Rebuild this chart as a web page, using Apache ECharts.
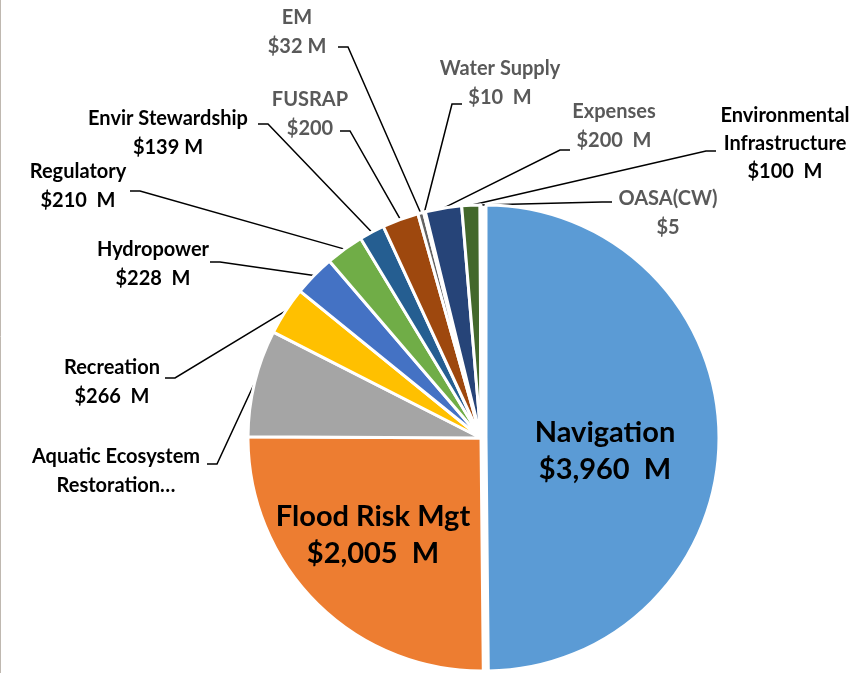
<!DOCTYPE html>
<html>
<head>
<meta charset="utf-8">
<script src="https://cdn.jsdelivr.net/npm/echarts@6/dist/echarts.min.js"></script>
<style>
html,body{margin:0;padding:0;background:#fff;}
#chart{width:867px;height:673px;}
</style>
</head>
<body>
<div id="chart"></div>
<script>
const categories = ['Navigation','Flood Risk Mgt','Aquatic Ecosystem\nRestoration…','Recreation','Hydropower','Regulatory','Envir Stewardship','FUSRAP','EM','Water Supply','Expenses','Environmental\nInfrastructure','OASA(CW)'];
const values = [3960,2005,590,266,228,210,139,200,32,10,200,100,5];
const valueLabels = ['$3,960  M','$2,005  M','','$266  M','$228  M','$210  M','$139 M','$200','$32 M','$10  M','$200  M','$100  M','$5'];
const colors = ['#5B9BD5','#ED7D31','#A5A5A5','#FFC000','#4472C4','#70AD47','#255E91','#9E480E','#636363','#997300','#264478','#43682B','#7CAFDD'];
const labelColors = ['#000','#000','#000','#000','#000','#000','#000','#595959','#595959','#595959','#595959','#000','#595959'];

// label placement (text centre) and leader-line anchor at the label
const labelPos = [
  {x:605, y:451},
  {x:373, y:535},
  {x:116, y:471, ax:207, ay:464, side:1},
  {x:112, y:382, ax:165, ay:378, side:1},
  {x:153, y:264, ax:210, ay:262, side:1},
  {x:78,  y:186, ax:130, ay:191, side:1},
  {x:168, y:133, ax:258, ay:124, side:1},
  {x:310, y:114, ax:340, ay:131, side:1},
  {x:297, y:32,  ax:338, ay:47,  side:1},
  {x:500, y:83,  ax:462, ay:104, side:-1},
  {x:614, y:126, ax:570, ay:150, side:-1},
  {x:785, y:144, ax:716, ay:151, side:-1},
  {x:668, y:213, ax:612, ay:202, side:-1}
];

const total = values.reduce((a,b)=>a+b,0);
const hidden = {itemStyle:{color:'rgba(0,0,0,0)',borderWidth:0},label:{show:false},labelLine:{show:false},tooltip:{show:false}};

function item(i){
  return {
    name:categories[i],
    value:values[i],
    itemStyle:{color:colors[i]},
    label:{
      show:true,
      color:labelColors[i],
      fontSize: i<2 ? 29 : 20,
      lineHeight: i<2 ? 37 : (i===11 ? 28 : 29)
    },
    labelLine:{show: i>=2}
  };
}

// Navigation (exploded slightly) drawn alone; the rest drawn in a second ring
const navData = [item(0), Object.assign({name:'rest',value:total-values[0]},hidden)];
const restData = [Object.assign({name:'nav',value:values[0]},hidden)].concat(categories.slice(1).map((n,k)=>item(k+1)));

function layout(){
  return function(params){
    const idx = categories.indexOf(params.text ? params.text.split('\n')[0] : '');
    let lp = labelPos[params.dataIndex];
    if (params.seriesIndex === 0) lp = labelPos[0];
    if(!lp) return {};
    const out = {x:lp.x,y:lp.y,align:'center',verticalAlign:'middle'};
    if (lp.ax !== undefined && params.labelLinePoints) {
      const p0 = params.labelLinePoints[0];
      out.labelLinePoints = [[p0[0],p0[1]],[lp.ax+lp.side*10,lp.ay],[lp.ax,lp.ay]];
    }
    return out;
  };
}

const common = {
  type:'pie',
  radius:233,
  startAngle:90,
  clockwise:true,
  avoidLabelOverlap:false,
  emphasis:{disabled:true},
  selectedMode:false,
  itemStyle:{borderColor:'#fff',borderWidth:3},
  label:{
    position:'outside',
    fontFamily:'Lato',
    fontWeight:'bold',
    formatter:(p)=>{
      const i = categories.indexOf(p.name);
      return valueLabels[i] ? p.name + '\n' + valueLabels[i] : p.name;
    }
  },
  labelLine:{length:10,length2:10,lineStyle:{color:'#000',width:1.5}}
};

const chart = echarts.init(document.getElementById('chart'));
chart.setOption({
  animation:false,
  backgroundColor:'#fff',
  graphic:[{type:'line',shape:{x1:0.5,y1:0,x2:0.5,y2:673},style:{stroke:'#BFB8B0',lineWidth:1}}],
  series:[
    Object.assign({}, common, {center:[486,438], labelLayout:layout(), data:navData}),
    Object.assign({}, common, {center:[481,438], labelLayout:layout(), data:restData})
  ]
});
</script>
</body>
</html>
